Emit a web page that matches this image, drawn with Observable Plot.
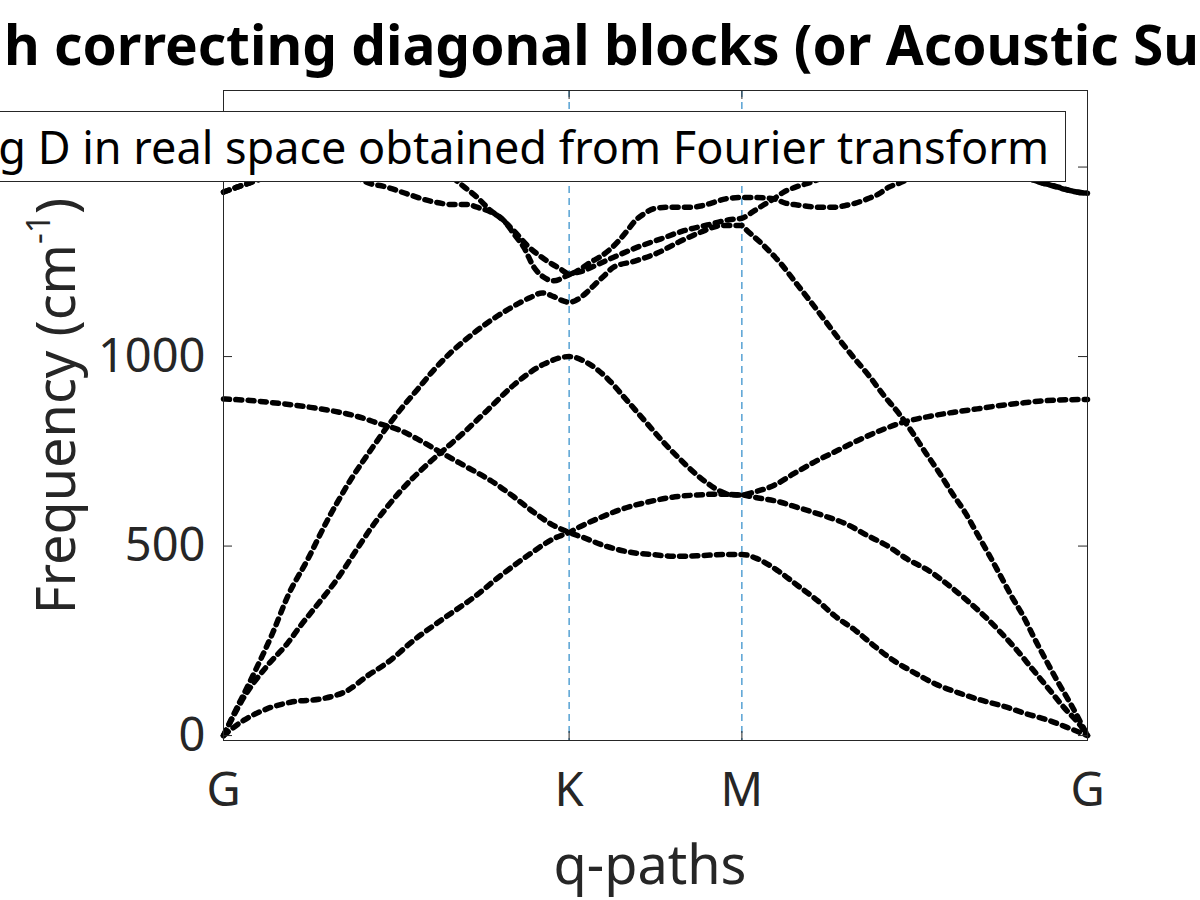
<!DOCTYPE html>
<html>
<head>
<meta charset="utf-8">
<script src="https://cdn.jsdelivr.net/npm/d3@7"></script>
<script src="https://cdn.jsdelivr.net/npm/@observablehq/plot@0.6"></script>
<style>
  html, body { margin: 0; padding: 0; background: #fff; }
  #wrap { position: relative; width: 1200px; height: 900px; overflow: hidden; font-family: "Noto Sans", sans-serif; }
  #wrap > svg { position: absolute; left: 0; top: 0; }
  #title { position: absolute; left: 4px; top: 16px; font-size: 55px; line-height: 55px; font-weight: bold; color: #000; white-space: nowrap; }
  #title .pre { position: absolute; right: calc(100% + 8px); top: 0; }
  #legend { position: absolute; right: 134px; top: 111px; height: 71px; box-sizing: border-box; border: 1px solid #262626; background: #fff;
            display: flex; align-items: center; white-space: nowrap; padding: 0 16px 0 12px; font-size: 45px; color: #000; }
  #legend svg { margin-right: 12px; }
  #ylabel { position: absolute; left: 54px; top: 406px; transform: translate(-50%, -50%) rotate(-90deg); font-size: 54px; line-height: 54px; color: #262626; white-space: nowrap; }
  #ylabel sup { font-size: 0.62em; line-height: 0; vertical-align: 0.75em; }
  #xlabel { position: absolute; left: 650px; top: 836px; transform: translateX(-50%); font-size: 54px; line-height: 54px; color: #262626; white-space: nowrap; }
</style>
</head>
<body>
<div id="wrap"></div>
<script>
// ---- tick data ----
const xTickPos = [0, 100, 150, 250];
const xTickLabels = ["G", "K", "M", "G"];
const yTicks = [0, 500, 1000, 1500];
const xDomain = [0, 250];
const yDomain = [-13, 1702];

// ---- phonon branches (q-path index, frequency in cm^-1) ----
const q1 = [0,5.8,12.7,19.4,29.0,35.9,41.7,47.5,55.0,63.7,72.3,80.2,88.8,95.6,100,102.9,109.2,115.4,122.7,129.9,137.2,143.4,150,153.4,159.2,165.0,170.8,177.6,183.4,190.1,196.8,203.6,211.3,218.1,224.8,231.6,238.3,250];
const f1 = [0,40,71,88,98,119,158,193,251,309,364,422,480,520,536,550,576,598,616,629,635,637,635,642,660,691,721,752,778,805,827,841,853,862,871,878,884,887];

const q2 = [0,7.8,17.4,25.2,31.9,38.7,45.4,51.2,57.0,63.7,70.5,77.3,84.0,89.8,95.6,100,104.0,110.2,117.5,124.7,131.0,138.3,145.5,150,154.6,160.4,166.1,171.9,176.7,182.9,188.2,193.9,199.7,206.0,212.3,219.0,225.8,232.5,238.8,245.1,250];
const f2 = [888,884,875,866,856,842,822,805,778,743,708,673,630,589,554,536,523,501,484,477,473,475,478,478,466,435,396,356,317,277,237,198,167,136,114,94,77,57,40,18,0];

const q3 = [0,5.9,13.1,18.4,22.3,26.6,32.9,38.7,42.5,46.9,51.2,58.9,64.2,68.6,76.3,84.0,92.7,100,105.0,111.2,115.9,122.7,127.3,132.0,137.2,140.3,143.4,146.6,150,153.4,160.2,166.1,173.7,180.0,186.3,192.0,197.8,204.1,209.9,215.2,220.0,224.8,229.7,234.0,238.8,243.1,248.0,250];
const f3 = [0,101,189,242,290,339,413,493,545,598,645,715,757,792,858,925,980,1000,985,941,893,822,774,730,686,664,646,636,635,629,618,602,580,559,528,501,466,435,396,356,317,273,224,176,123,75,26,0];

const q4 = [0,3.0,7.8,14.1,18.9,24.2,30.0,35.8,43.5,47.4,51.2,56.0,60.9,65.7,70.5,77.3,83.0,88.8,92.2,95.6,98.5,100,101.9,105.2,107.1,110.0,112.9,118.7,125.5,131.7,138.0,144.3,150,151.0,156.3,161.2,165.5,169.6,173.8,178.0,182.4,186.7,191.1,195.4,199.3,203.1,207.0,210.8,214.7,218.1,221.4,224.8,228.2,231.6,234.5,237.8,241.2,245.1,250];
const f4 = [0,57,145,268,374,462,567,660,765,815,860,912,965,1010,1048,1095,1128,1156,1168,1158,1146,1143,1148,1170,1187,1212,1236,1251,1273,1302,1328,1346,1346,1337,1293,1246,1196,1148,1098,1047,997,950,897,850,800,747,695,640,587,532,479,422,365,312,259,202,145,84,0];

const q5 = [0,3.9,6.9,12,20,30,38,42.5,46.4,53.2,59.9,66.6,70.5,73.4,79.2,84.0,87.9,92.7,97.5,100,103.3,106.2,109.1,112.0,114.4,116.8,119.2,121.6,124.5,128.4,132.2,135.1,138.5,141.9,145.3,150,153.2,159.2,162.6,166.0,169.4,172.7,176.6,179.7,182.9,186.3,189.6,192.5,195.4,200,208,218,228,234,237.3,240.1,243.5,246.9,250];
const f5 = [1434,1447,1456,1472,1488,1490,1474,1456,1449,1429,1410,1401,1401,1394,1372,1332,1293,1258,1231,1218,1231,1249,1264,1284,1306,1332,1359,1376,1390,1394,1394,1394,1398,1407,1416,1420,1420,1416,1405,1400,1396,1394,1394,1398,1405,1416,1429,1447,1457,1475,1492,1495,1482,1467,1457,1451,1442,1434,1431];

const q6 = [0,3.9,6.9,12,20,30,40,50,58,64,68.6,71.0,73.4,77.3,81.1,84.0,86.9,89.8,92.7,95.6,99.5,100,104,108.5,112.9,119.6,126.4,133.2,140.0,146.3,150,153.0,155.9,159.2,162.1,165.5,168.7,175,185,200,215,226,233,237.3,240.1,243.5,246.9,250];
const f6 = [1434,1447,1456,1478,1510,1545,1560,1550,1525,1490,1455,1438,1420,1385,1359,1324,1288,1236,1209,1200,1214,1216,1226,1244,1262,1288,1310,1332,1347,1361,1365,1381,1398,1416,1434,1447,1456,1478,1520,1545,1535,1500,1470,1457,1450,1441,1434,1431];

const branchQ = [q1, q2, q3, q4, q5, q6];
const branchF = [f1, f2, f3, f4, f5, f6];

const rows = [];
branchQ.forEach((qs, b) => qs.forEach((q, i) => rows.push({branch: b, q, f: branchF[b][i]})));

const W = 1200, H = 900, mL = 223, mR = 113, mT = 90, mB = 160;
const innerW = W - mL - mR, innerH = H - mT - mB, tickLen = 9;
const axisColor = "#262626";

const chart = Plot.plot({
  width: W, height: H,
  marginLeft: mL, marginRight: mR, marginTop: mT, marginBottom: mB,
  x: {domain: xDomain},
  y: {domain: yDomain},
  style: {fontFamily: "Noto Sans", background: "white", color: axisColor, overflow: "visible"},
  marks: [
    Plot.ruleX(xTickPos.slice(1, -1), {x: d => d, stroke: "#0072BD", strokeWidth: 1, strokeDasharray: "7,5"}),
    Plot.line(rows, {x: "q", y: "f", z: "branch", stroke: "black", strokeWidth: 5.5, strokeDasharray: "6,6.3", curve: "monotone-x"}),
    Plot.frame({stroke: axisColor, strokeWidth: 1}),
    Plot.ruleY(yTicks, {y: d => d, insetRight: innerW - tickLen, stroke: axisColor}),
    Plot.ruleY(yTicks, {y: d => d, insetLeft: innerW - tickLen, stroke: axisColor}),
    Plot.ruleX(xTickPos, {x: d => d, insetTop: innerH - tickLen, stroke: axisColor}),
    Plot.ruleX(xTickPos, {x: d => d, insetBottom: innerH - tickLen, stroke: axisColor}),
    Plot.axisY({ticks: yTicks, tickSize: 0, tickPadding: 18, fontSize: 47, label: null, tickFormat: d => String(d)}),
    Plot.axisX({ticks: xTickPos, tickSize: 0, tickPadding: 32, fontSize: 47, label: null,
                tickFormat: d => xTickLabels[xTickPos.indexOf(d)]})
  ]
});

const wrap = document.getElementById("wrap");
wrap.appendChild(chart);

const title = document.createElement("div");
title.id = "title";
title.innerHTML = '<span class="pre">Phonon dispersion wit</span>h correcting diagonal blocks (or Acoustic Sum Rule)';
wrap.appendChild(title);

const legend = document.createElement("div");
legend.id = "legend";
legend.innerHTML = '<svg width="70" height="10"><line x1="0" y1="5" x2="70" y2="5" stroke="black" stroke-width="5.5" stroke-dasharray="6,6.3"/></svg><span>Using D in real space obtained from Fourier transform</span>';
wrap.appendChild(legend);

const ylabel = document.createElement("div");
ylabel.id = "ylabel";
ylabel.innerHTML = 'Frequency (cm<sup>-1</sup>)';
wrap.appendChild(ylabel);

const xlabel = document.createElement("div");
xlabel.id = "xlabel";
xlabel.textContent = "q-paths";
wrap.appendChild(xlabel);
</script>
</body>
</html>
